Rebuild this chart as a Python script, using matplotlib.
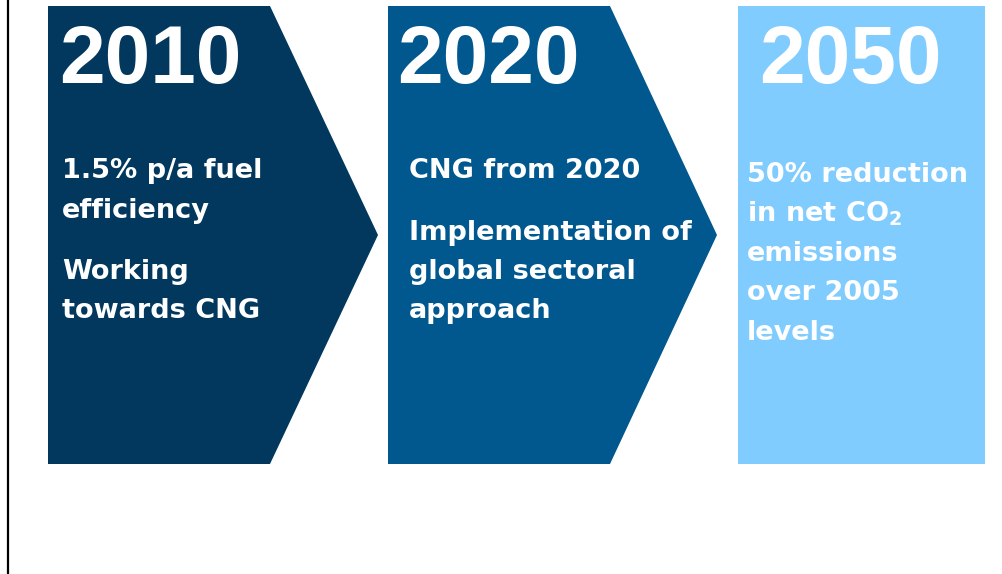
import matplotlib
matplotlib.use("Agg")
import matplotlib.pyplot as plt
from matplotlib.patches import Polygon

plt.rcParams["font.family"] = ["Liberation Sans", "DejaVu Sans"]
plt.rcParams["mathtext.fontset"] = "custom"
plt.rcParams["mathtext.rm"] = "DejaVu Sans:bold"
plt.rcParams["mathtext.bf"] = "DejaVu Sans:bold"

# === Datos del roadmap ===
anios = ["2010", "2020", "2050"]
parrafos = [
    [["1.5% p/a fuel", "efficiency"], ["Working", "towards CNG"]],
    [["CNG from 2020"], ["Implementation of", "global sectoral", "approach"]],
    [["50% reduction", r"in net CO$_\mathregular{2}$", "emissions", "over 2005", "levels"]],
]
colores = ["#02385D", "#01588F", "#80CCFE"]

# === Geometría (pixeles) ===
W, H = 1003, 574
top, bottom = 6, 464
izq = [48, 388, 738]
ancho_cuerpo = [222, 222, 247]
punta = [108, 107, 0]
x_anio = [59, 397, 759]
x_texto = [62, 409, 747]
y_anio = 83
y_primera = [178, 178, 182]
interlinea = 39.5
salto_parrafo = 22

fig = plt.figure(figsize=(W / 100, H / 100), dpi=100)
ax = fig.add_axes([0, 0, 1, 1])
ax.set_xlim(0, W)
ax.set_ylim(H, 0)
ax.axis("off")

# Línea vertical izquierda
ax.plot([8.5, 8.5], [0, H], color="black", linewidth=1.6)

mitad = (top + bottom) / 2
for i, anio in enumerate(anios):
    x0 = izq[i]
    x1 = x0 + ancho_cuerpo[i]
    if punta[i] > 0:
        pts = [(x0, top), (x1, top), (x1 + punta[i], mitad), (x1, bottom), (x0, bottom)]
    else:
        pts = [(x0, top), (x1, top), (x1, bottom), (x0, bottom)]
    ax.add_patch(Polygon(pts, closed=True, facecolor=colores[i], edgecolor="none"))

    ax.text(x_anio[i], y_anio, anio, color="white", fontsize=59, fontweight="bold",
            ha="left", va="baseline")

    y = y_primera[i]
    for j, parrafo in enumerate(parrafos[i]):
        if j > 0:
            y += salto_parrafo
        for linea in parrafo:
            ax.text(x_texto[i], y, linea, color="white", fontsize=19.5,
                    family="DejaVu Sans", fontweight="bold",
                    ha="left", va="baseline")
            y += interlinea

fig.savefig("out.png", dpi=100, facecolor="white")
plt.close(fig)
